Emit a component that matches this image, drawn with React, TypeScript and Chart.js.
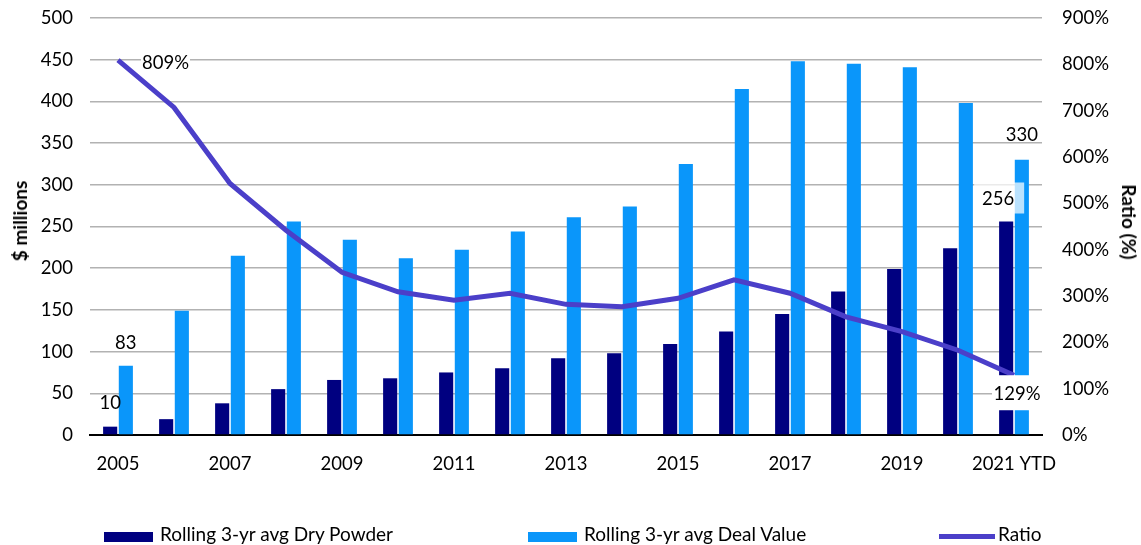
import React, { useEffect, useRef } from "react";
import { Chart, registerables } from "chart.js";

Chart.register(...registerables);

const categories = ["2005", "2006", "2007", "2008", "2009", "2010", "2011", "2012", "2013", "2014", "2015", "2016", "2017", "2018", "2019", "2020", "2021 YTD"];
const dryPowder = [10, 19, 38, 55, 66, 68, 75, 80, 92, 98, 109, 124, 145, 172, 199, 224, 256];
const dealValue = [83, 149, 215, 256, 234, 212, 222, 244, 261, 274, 325, 415, 448, 445, 441, 398, 330];
const ratio = [809, 707, 543, 442, 351, 309, 291, 306, 282, 277, 295, 335, 306, 255, 223, 183, 129];
const leftTicks = { min: 0, max: 500, step: 50 };
const rightTicks = { min: 0, max: 900, step: 100 };

const FONT = "Lato, 'DejaVu Sans', sans-serif";
const TICK_SIZE = 18.5;
const DARK = "#000080";
const LIGHT = "#0A96FA";
const LINE = "#4B3FC9";

const labelPlugin = {
  id: "valueLabels",
  afterDatasetsDraw(chart: any) {
    const ctx = chart.ctx;
    const dark = chart.getDatasetMeta(0).data;
    const light = chart.getDatasetMeta(1).data;
    const line = chart.getDatasetMeta(2).data;
    const last = categories.length - 1;
    ctx.save();
    ctx.font = `${TICK_SIZE}px ${FONT}`;
    ctx.fillStyle = "#000";
    ctx.textBaseline = "middle";
    ctx.textAlign = "center";
    ctx.fillText(String(dryPowder[0]), dark[0].x, dark[0].y - 24);
    ctx.fillText(String(dealValue[0]), light[0].x, light[0].y - 23);
    ctx.fillText(String(dealValue[last]), light[last].x, light[last].y - 25);
    {
      const cx = dark[last].x - 8;
      const cy = dark[last].y - 22;
      ctx.fillStyle = "rgba(255,255,255,0.72)";
      ctx.fillRect(cx - 24, cy - 17, 50, 31);
      ctx.fillStyle = "#000";
      ctx.fillText(String(dryPowder[last]), cx, cy);
    }
    {
      const p = line[0];
      const txt = ratio[0] + "%";
      const w = ctx.measureText(txt).width;
      ctx.fillStyle = "#fff";
      ctx.fillRect(p.x + 23, p.y - 8, w + 2, 18);
      ctx.fillStyle = "#000";
      ctx.textAlign = "left";
      ctx.fillText(txt, p.x + 24, p.y + 3);
    }
    {
      const p = line[last];
      ctx.fillStyle = "#fff";
      ctx.fillRect(p.x - 22, p.y, 52, 35);
      ctx.fillStyle = "#000";
      ctx.textAlign = "center";
      ctx.fillText(ratio[last] + "%", p.x + 3, p.y + 19);
    }
    ctx.restore();
  },
};

export default function App() {
  const ref = useRef<HTMLCanvasElement | null>(null);
  useEffect(() => {
    if (!ref.current) return;
    const chart = new Chart(ref.current, {
      type: "bar",
      data: {
        labels: categories,
        datasets: [
          {
            type: "bar",
            label: "Rolling 3-yr avg Dry Powder",
            data: dryPowder,
            backgroundColor: DARK,
            yAxisID: "y",
            categoryPercentage: 0.56,
            barPercentage: 0.9,
            order: 2,
          },
          {
            type: "bar",
            label: "Rolling 3-yr avg Deal Value",
            data: dealValue,
            backgroundColor: LIGHT,
            yAxisID: "y",
            categoryPercentage: 0.56,
            barPercentage: 0.9,
            order: 2,
          },
          {
            type: "line",
            label: "Ratio",
            data: ratio,
            borderColor: LINE,
            backgroundColor: LINE,
            borderWidth: 5,
            pointRadius: 0,
            tension: 0,
            yAxisID: "y1",
            order: 1,
          } as any,
        ],
      },
      options: {
        responsive: false,
        animation: false,
        layout: { padding: { top: 18, left: 0, right: 0, bottom: 0 } },
        plugins: {
          legend: { display: false },
          tooltip: { enabled: false },
        },
        scales: {
          x: {
            grid: { display: false },
            border: { display: true, color: "#000", width: 2 },
            ticks: {
              autoSkip: false,
              maxRotation: 0,
              padding: 10,
              color: "#000",
              font: { family: FONT, size: TICK_SIZE },
              callback: (_v: any, i: number) => (i % 2 === 0 ? categories[i] : ""),
            },
            afterFit: (s: any) => {
              s.height = 110;
              s.paddingLeft = 0;
              s.paddingRight = 0;
            },
          },
          y: {
            position: "left",
            min: leftTicks.min,
            max: leftTicks.max,
            grid: { color: "#b2b2b2", lineWidth: 1.5, drawTicks: false },
            border: { display: false },
            ticks: {
              stepSize: leftTicks.step,
              padding: 17,
              color: "#000",
              font: { family: FONT, size: TICK_SIZE },
            },
            afterFit: (s: any) => {
              s.width = 90;
              s.paddingTop = 0;
              s.paddingBottom = 0;
            },
          },
          y1: {
            position: "right",
            min: rightTicks.min,
            max: rightTicks.max,
            grid: { display: false, drawTicks: false },
            border: { display: false },
            ticks: {
              stepSize: rightTicks.step,
              padding: 20,
              color: "#000",
              font: { family: FONT, size: TICK_SIZE },
              callback: (v: any) => v + "%",
            },
            afterFit: (s: any) => {
              s.width = 99;
              s.paddingTop = 0;
              s.paddingBottom = 0;
            },
          },
        },
      },
      plugins: [labelPlugin],
    });
    return () => chart.destroy();
  }, []);

  const txt: React.CSSProperties = {
    position: "absolute",
    fontFamily: FONT,
    fontSize: 19,
    lineHeight: "22px",
    color: "#000",
    whiteSpace: "nowrap",
  };

  return (
    <div style={{ position: "fixed", left: 0, top: 0, width: 1141, height: 545, background: "#fff", overflow: "hidden" }}>
      <canvas ref={ref} width={1141} height={545} style={{ position: "absolute", left: 0, top: 0 }} />
      <div style={{ ...txt, fontWeight: "bold", left: 20, top: 221, transform: "translate(-50%,-50%) rotate(-90deg)" }}>$ millions</div>
      <div style={{ ...txt, fontWeight: "bold", left: 1129, top: 222, transform: "translate(-50%,-50%) rotate(90deg)" }}>Ratio (%)</div>
      <div style={{ position: "absolute", left: 104, top: 532, width: 49, height: 10, background: DARK }} />
      <div style={{ ...txt, left: 160, top: 523 }}>Rolling 3-yr avg Dry Powder</div>
      <div style={{ position: "absolute", left: 528, top: 532, width: 49, height: 10, background: LIGHT }} />
      <div style={{ ...txt, left: 584, top: 523 }}>Rolling 3-yr avg Deal Value</div>
      <div style={{ position: "absolute", left: 939, top: 534, width: 56, height: 5, background: LINE }} />
      <div style={{ ...txt, left: 998, top: 523 }}>Ratio</div>
    </div>
  );
}
